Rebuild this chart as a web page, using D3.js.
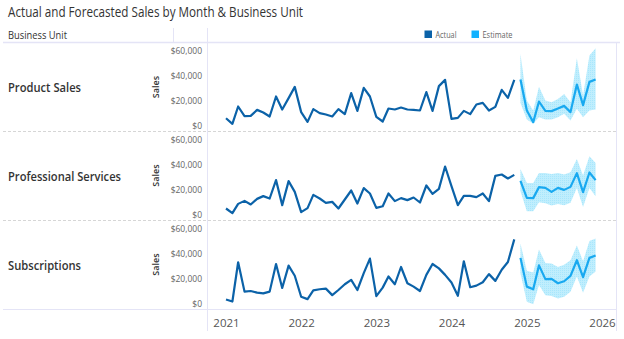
<!DOCTYPE html>
<html><head><meta charset="utf-8">
<script src="https://cdn.jsdelivr.net/npm/d3@7"></script>
<style>body{margin:0;background:#fff}svg{display:block}text{font-family:"Open Sans","Noto Sans",sans-serif}</style>
</head><body><svg id="c" width="624" height="339"></svg>
<script>
const units = ["Product Sales", "Professional Services", "Subscriptions"];
const yearTicks = ["2021","2022","2023","2024","2025","2026"];
const yTicks = [0, 20000, 40000, 60000];
const actualStart = [2021, 0];   // Jan 2021, 47 monthly actuals
const estimateStart = [2024, 11]; // Dec 2024, 13 monthly estimates

const actualProduct = [5800,1300,15200,7500,7700,12500,10400,7200,23200,12800,21900,30900,10700,2900,13100,9900,8800,7200,13100,9100,25900,11700,30100,23200,6900,3200,13600,12800,14400,12800,12500,12000,26700,11700,31500,36500,5300,6100,11700,9100,16800,18100,12000,14900,28500,22100,36500];
const actualServices = [4800,1100,8500,10900,8000,12500,14700,12800,27500,7500,26700,18100,1900,5100,15700,12800,9300,10100,4800,12000,19200,8800,21100,16800,5300,6600,16800,10700,13100,11500,13600,9600,23200,16500,20500,38400,22700,7500,14900,14900,13900,16800,10700,30900,32000,28800,31700];
const actualSubs = [3200,1600,33000,9500,10000,8700,8100,9500,31600,12400,30300,22200,5400,3500,10500,11400,11900,6700,10800,15400,18900,10800,24300,35900,5900,12700,21600,15400,29200,16200,13500,10000,22900,31600,28100,22900,16800,6200,33800,13000,14300,17000,23500,18100,27000,33200,51300];

const estProduct = [36800,12000,2700,19200,11700,11500,13600,15700,10700,32800,16300,34900,36800];
const estProductHi = [57300,20000,12000,31000,20000,18600,21300,25300,18600,53800,24000,56000,61800];
const estProductLo = [18000,4800,1400,6600,4800,4800,6600,9400,4000,13400,6600,12000,12800];

const estServices = [26900,13300,13100,21900,21300,18100,21300,19700,22100,33100,17900,33600,27500];
const estServicesHi = [36500,25300,25300,33300,33300,32500,33300,32000,33900,44500,31200,46700,41300];
const estServicesLo = [18700,2700,2700,9900,9000,7200,8500,7500,9500,21300,6100,21300,14700];

const estSubs = [36500,13500,11400,30500,19500,19700,16200,17800,22100,34600,21100,36500,38400];
const estSubsHi = [48100,26200,24900,43200,32400,32000,29200,31000,34600,46500,33800,50000,52100];
const estSubsLo = [24300,1400,-500,14800,6700,6000,4100,5500,9500,21600,8700,21600,25700];

const actuals = [actualProduct, actualServices, actualSubs];
const estimates = [estProduct, estServices, estSubs];
const highs = [estProductHi, estServicesHi, estSubsHi];
const lows = [estProductLo, estServicesLo, estSubsLo];

const C_ACT = "#0b62a8", C_EST = "#19a9f0";
const svg = d3.select("#c");

// dotted band texture
const pat = svg.append("defs").append("pattern").attr("id","band").attr("patternUnits","userSpaceOnUse")
  .attr("width",2).attr("height",2);
pat.append("rect").attr("width",2).attr("height",2).attr("fill","#c0eefd");
pat.append("rect").attr("width",1).attr("height",1).attr("fill","#a8e6fc");

const monthOf = (start, i) => new Date(start[0], start[1] + i, 1);
const x = d3.scaleTime()
  .domain([new Date(2021,0,1), new Date(2026,0,1)])
  .range([226, 602]);

// frame lines
const LAV = "#e4e4f6";
svg.append("line").attr("x1",3).attr("x2",620).attr("y1",42.5).attr("y2",42.5).attr("stroke",LAV).attr("stroke-width",1.5);
svg.append("line").attr("x1",173.5).attr("x2",173.5).attr("y1",28).attr("y2",42).attr("stroke",LAV);
svg.append("line").attr("x1",207.5).attr("x2",207.5).attr("y1",28).attr("y2",331).attr("stroke",LAV);
svg.append("line").attr("x1",616.5).attr("x2",616.5).attr("y1",43).attr("y2",331).attr("stroke",LAV);
svg.append("line").attr("x1",3).attr("x2",617).attr("y1",309.5).attr("y2",309.5).attr("stroke",LAV).attr("stroke-width",1.2);

// title & header
svg.append("text").attr("x",8).attr("y",17).attr("font-size",15).attr("fill","#333")
  .attr("textLength",295).attr("lengthAdjust","spacingAndGlyphs")
  .text("Actual and Forecasted Sales by Month & Business Unit");
svg.append("text").attr("x",8).attr("y",38.5).attr("font-size",11).attr("fill","#333")
  .attr("textLength",59).attr("lengthAdjust","spacingAndGlyphs").text("Business Unit");

// legend
const legend = [["Actual", C_ACT, 424.5, 435.5, 21], ["Estimate", "#12b2ff", 471.5, 482.5, 30]];
legend.forEach(([t,c,sx,tx,tl]) => {
  svg.append("rect").attr("x",sx).attr("y",30.5).attr("width",7.5).attr("height",7.5).attr("fill",c);
  svg.append("text").attr("x",tx).attr("y",37.5).attr("font-size",8.5).attr("fill","#666")
    .attr("textLength",tl).attr("lengthAdjust","spacingAndGlyphs").text(t);
});

const panels = [[43,131],[131,220],[220,309]];
const labelLen = [73, 113, 73];

panels.forEach(([top,bot], p) => {
  const y = d3.scaleLinear().domain([0,60000]).range([bot-5.5, bot-80.5]);
  const mid = (top+bot)/2;

  if (p < 2) {
    svg.append("line").attr("x1",3).attr("x2",617).attr("y1",bot+0.5).attr("y2",bot+0.5)
      .attr("stroke","#d6d6d6").attr("stroke-dasharray","3,2");
  }
  svg.append("text").attr("x",8).attr("y",mid+5).attr("font-size",12.5).attr("font-weight",600)
    .attr("fill","#333").attr("textLength",labelLen[p]).attr("lengthAdjust","spacingAndGlyphs")
    .text(units[p]);
  svg.append("text").attr("transform",`translate(158.5,${mid}) rotate(-90)`).attr("text-anchor","middle")
    .attr("font-size",9).attr("font-weight",600).attr("fill","#333").text("Sales");

  const ax = svg.append("g").attr("transform","translate(202,0)")
    .call(d3.axisLeft(y).tickValues(yTicks).tickSize(0).tickPadding(0).tickFormat(d => "$" + d3.format(",")(d)));
  ax.select(".domain").remove();
  ax.selectAll("text").attr("font-size",8.5).attr("fill","#666").attr("font-family","'Open Sans',sans-serif");

  const est = estimates[p].map((v,i) => ({d: monthOf(estimateStart,i), v, hi: highs[p][i], lo: lows[p][i]}));
  svg.append("path").datum(est)
    .attr("d", d3.area().x(d => x(d.d)).y0(d => y(d.lo)).y1(d => y(d.hi)))
    .attr("fill", "url(#band)");
  svg.append("path").datum(est)
    .attr("d", d3.line().x(d => x(d.d)).y(d => y(d.v)))
    .attr("fill","none").attr("stroke",C_EST).attr("stroke-width",2.2).attr("stroke-linejoin","round");

  const act = actuals[p].map((v,i) => ({d: monthOf(actualStart,i), v}));
  svg.append("path").datum(act)
    .attr("d", d3.line().x(d => x(d.d)).y(d => y(d.v)))
    .attr("fill","none").attr("stroke",C_ACT).attr("stroke-width",2.2).attr("stroke-linejoin","round");
});

// x axis labels
const xa = svg.append("g").attr("transform","translate(0,319)")
  .call(d3.axisBottom(x).tickValues(yearTicks.map(t => new Date(+t,0,1))).tickSize(0).tickPadding(0)
    .tickFormat(d3.timeFormat("%Y")));
xa.select(".domain").remove();
xa.selectAll("text").attr("font-size",11.5).attr("fill","#555").attr("font-family","'Open Sans',sans-serif");
</script></body></html>
